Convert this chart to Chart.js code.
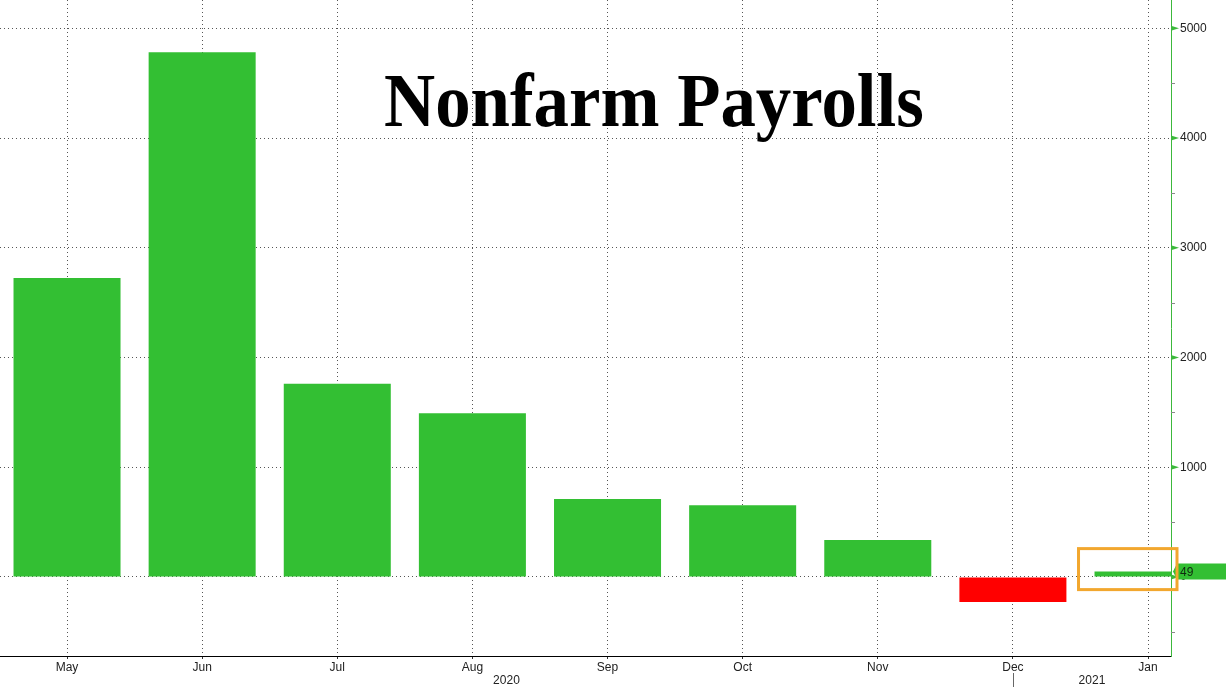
<!DOCTYPE html>
<html>
<head>
<meta charset="utf-8">
<title>Nonfarm Payrolls</title>
<script src="https://cdn.jsdelivr.net/npm/chart.js@4.4.1/dist/chart.umd.min.js"></script>
<style>
  html, body { margin: 0; padding: 0; background: #fff; }
  #wrap { position: relative; width: 1226px; height: 687px; overflow: hidden; }
  #title {
    position: absolute; left: 384px; top: 62px;
    font: bold 77px "Liberation Serif", serif; line-height: 77px;
    color: #000; white-space: nowrap;
    transform-origin: left top; transform: scaleX(0.92);
  }
</style>
</head>
<body>
<div id="wrap">
  <canvas id="nfp-chart"></canvas>
  <div id="title">Nonfarm Payrolls</div>
</div>
<script>
// monthly change, thousands
const months = ['May', 'Jun', 'Jul', 'Aug', 'Sep', 'Oct', 'Nov', 'Dec', 'Jan'];
const payrolls = [2725, 4781, 1761, 1493, 711, 654, 336, -227, 49];
const yTicks = [0, 1000, 2000, 3000, 4000, 5000];
const minorTicks = [-500, 500, 1500, 2500, 3500, 4500];
const years = ['2020', '2021'];
const yearSplit = 7; // index of month where the year separator sits

const GREEN = '#33bf33';
const RED = '#ff0000';
const AXIS_GREEN = '#3cb83c';

const points = payrolls.map((v, i) => ({ x: i, y: v }));

// extras drawn on top: axis markers, last value badge, highlight box, year row
const extras = {
  id: 'extras',
  afterDraw(chart) {
    const ctx = chart.ctx;
    const xs = chart.scales.x;
    const ys = chart.scales.y;
    const area = chart.chartArea;
    ctx.save();

    // minor ticks on the right axis
    ctx.strokeStyle = '#8a8a8a';
    ctx.lineWidth = 1;
    minorTicks.forEach(v => {
      const y = Math.round(ys.getPixelForValue(v)) + 0.5;
      ctx.beginPath();
      ctx.moveTo(area.right, y);
      ctx.lineTo(area.right + 4, y);
      ctx.stroke();
    });

    // green arrow markers at major ticks
    ctx.fillStyle = AXIS_GREEN;
    yTicks.forEach(v => {
      const y = ys.getPixelForValue(v);
      ctx.beginPath();
      ctx.moveTo(area.right, y - 2.5);
      ctx.lineTo(area.right + 8, y);
      ctx.lineTo(area.right, y + 2.5);
      ctx.closePath();
      ctx.fill();
    });

    // last value badge
    const last = payrolls[payrolls.length - 1];
    const yc = ys.getPixelForValue(last);
    ctx.fillStyle = GREEN;
    ctx.beginPath();
    ctx.moveTo(area.right + 2, yc);
    ctx.lineTo(area.right + 6, yc - 8);
    ctx.lineTo(chart.width, yc - 8);
    ctx.lineTo(chart.width, yc + 8);
    ctx.lineTo(area.right + 6, yc + 8);
    ctx.closePath();
    ctx.fill();
    ctx.fillStyle = '#102810';
    ctx.font = '12px "Liberation Sans", Arial, sans-serif';
    ctx.textBaseline = 'middle';
    ctx.textAlign = 'left';
    ctx.fillText(String(last), area.right + 9, yc + 1);

    // orange highlight round the latest bar
    const bar = chart.getDatasetMeta(0).data[payrolls.length - 1];
    const barLeft = bar.x - bar.width / 2;
    ctx.strokeStyle = '#f2a72e';
    ctx.lineWidth = 3;
    ctx.strokeRect(barLeft - 16, yc - 23, area.right + 6 - (barLeft - 16), 41);

    // year row
    const splitX = xs.getPixelForValue(yearSplit);
    ctx.fillStyle = '#222';
    ctx.textAlign = 'center';
    ctx.fillText(years[0], (area.left + splitX) / 2, 681);
    ctx.fillText(years[1], (splitX + area.right) / 2, 681);
    ctx.strokeStyle = '#666';
    ctx.lineWidth = 1;
    ctx.beginPath();
    ctx.moveTo(Math.round(splitX) + 0.5, 673);
    ctx.lineTo(Math.round(splitX) + 0.5, 687);
    ctx.stroke();

    ctx.restore();
  }
};

new Chart(document.getElementById('nfp-chart'), {
  type: 'bar',
  data: {
    datasets: [{
      data: points,
      backgroundColor: payrolls.map(v => v >= 0 ? GREEN : RED),
      borderWidth: 0,
      barPercentage: 0.792,
      categoryPercentage: 1
    }]
  },
  options: {
    responsive: true,
    maintainAspectRatio: false,
    animation: false,
    layout: { padding: 0 },
    plugins: {
      legend: { display: false },
      tooltip: { enabled: false }
    },
    scales: {
      x: {
        type: 'linear',
        offset: false,
        min: -0.496,
        max: 8.17,
        afterBuildTicks: axis => { axis.ticks = months.map((m, i) => ({ value: i })); },
        afterFit: axis => {
          axis.height = 31;
          axis.paddingLeft = 0;
          axis.paddingRight = 0;
        },
        ticks: {
          callback: v => months[v],
          color: '#222',
          padding: 1,
          maxRotation: 0,
          autoSkip: false,
          font: { family: '"Liberation Sans", Arial, sans-serif', size: 12 }
        },
        grid: {
          offset: false,
          color: '#555',
          tickColor: '#333',
          tickLength: 3
        },
        border: { display: true, color: '#000', width: 1, dash: [1, 3] }
      },
      y: {
        position: 'right',
        min: -720,
        max: 5258,
        afterBuildTicks: axis => { axis.ticks = yTicks.map(v => ({ value: v })); },
        afterFit: axis => {
          axis.width = 55;
          axis.paddingTop = 0;
          axis.paddingBottom = 0;
        },
        ticks: {
          callback: v => String(v),
          color: '#222',
          padding: 9,
          font: { family: '"Liberation Sans", Arial, sans-serif', size: 12 }
        },
        grid: {
          color: '#555',
          drawTicks: false
        },
        border: { display: true, color: AXIS_GREEN, width: 1, dash: [1, 3] }
      }
    }
  },
  plugins: [extras]
});
</script>
</body>
</html>
